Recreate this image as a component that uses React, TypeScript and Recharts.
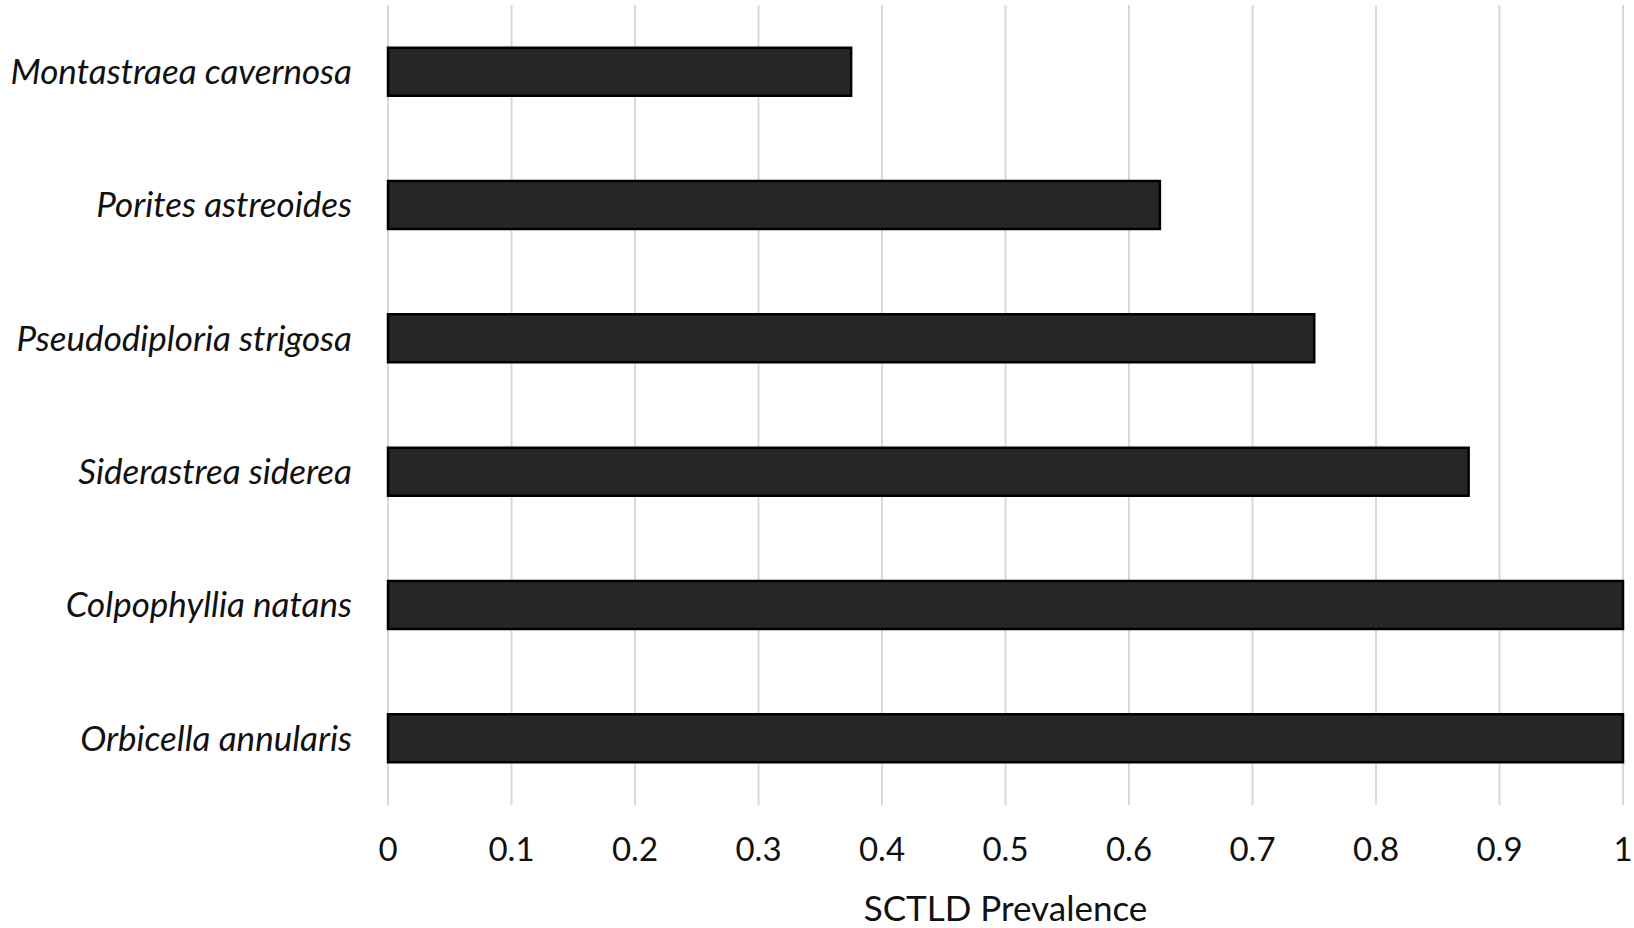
import React from 'react';
import { BarChart, Bar, XAxis, YAxis, CartesianGrid, Label } from 'recharts';

const species = [
  'Montastraea cavernosa',
  'Porites astreoides',
  'Pseudodiploria strigosa',
  'Siderastrea siderea',
  'Colpophyllia natans',
  'Orbicella annularis',
];
const prevalence = [0.375, 0.625, 0.75, 0.875, 1, 1];
const xTicks = [0, 0.1, 0.2, 0.3, 0.4, 0.5, 0.6, 0.7, 0.8, 0.9, 1];

const data = species.map((name, i) => ({ name, value: prevalence[i] }));

const FONT = 'Lato, "Open Sans", sans-serif';

export default function App() {
  return (
    <div style={{ position: 'absolute', left: 0, top: 0, width: 1634, height: 928, background: '#fff' }}>
      <BarChart
        width={1634}
        height={928}
        data={data}
        layout="vertical"
        margin={{ top: 5, right: 11, bottom: 0, left: 0 }}
        barCategoryGap="32%"
      >
        <CartesianGrid horizontal={false} stroke="#d9d9d9" strokeWidth={2} />
        <XAxis
          type="number"
          domain={[0, 1]}
          ticks={xTicks}
          axisLine={false}
          tickLine={false}
          tickSize={0}
          tickMargin={33}
          height={123}
          tick={{ fill: '#111', fontSize: 33, fontFamily: FONT }}
        >
          <Label
            value="SCTLD Prevalence"
            position="insideBottom"
            offset={7}
            style={{ fill: '#111', fontSize: 35, fontFamily: FONT }}
          />
        </XAxis>
        <YAxis
          type="category"
          dataKey="name"
          width={388}
          axisLine={false}
          tickLine={false}
          tickSize={0}
          tickMargin={36}
          tick={{ fill: '#111', fontSize: 35, fontFamily: FONT, fontStyle: 'italic' }}
        />
        <Bar dataKey="value" fill="#262626" stroke="#000" strokeWidth={2.5} isAnimationActive={false} />
      </BarChart>
    </div>
  );
}
